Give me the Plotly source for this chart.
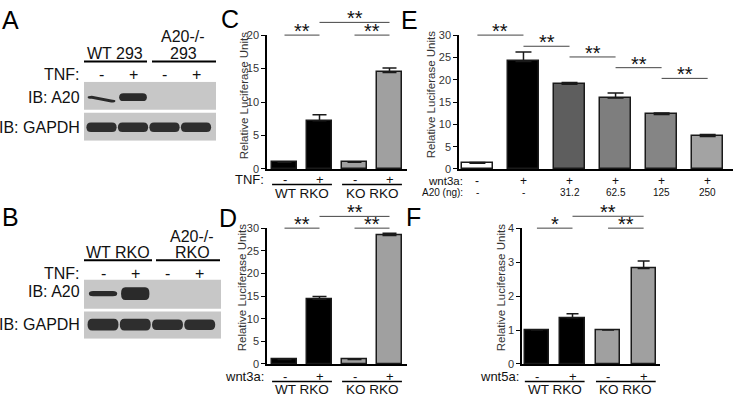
import plotly.graph_objects as go

W, H = 733, 401
FONT = "Liberation Sans, Arial, sans-serif"

# ---------------- data ----------------
treat = ["-", "+", "-", "+"]
groups = ["WT RKO", "KO RKO"]

# C: TNF reporter
c_vals = [1.0, 7.2, 1.0, 14.4]
c_err = [0.0, 0.9, 0.0, 0.7]
c_sig = [[0, 1, 20.0, "**"], [1, 3, 21.9, "**"], [2, 3, 20.0, "**"]]

# D: wnt3a reporter
d_vals = [1.0, 14.3, 1.0, 28.4]
d_err = [0.0, 0.6, 0.0, 0.5]
d_sig = [[0, 1, 30.0, "**"], [1, 3, 32.6, "**"], [2, 3, 30.0, "**"]]

# E: A20 dose
e_wnt3a = ["-", "+", "+", "+", "+", "+"]
e_a20 = ["-", "-", "31.2", "62.5", "125", "250"]
e_vals = [1.3, 24.1, 19.0, 15.9, 12.2, 7.3]
e_err = [0.15, 2.1, 0.4, 1.1, 0.35, 0.4]
e_sig = [[0, 1, 30.0, "**"], [1, 2, 27.5, "**"], [2, 3, 25.1, "**"],
         [3, 4, 22.7, "**"], [4, 5, 20.3, "**"]]

# F: wnt5a reporter
f_vals = [1.0, 1.36, 1.0, 2.81]
f_err = [0.0, 0.12, 0.0, 0.22]
f_sig = [[0, 1, 4.0, "*"], [1, 3, 4.35, "**"], [2, 3, 4.0, "**"]]

# western blots (relative band strength per lane)
blot_tnf = ["-", "+", "-", "+"]
a20_293 = [0.4, 1.0, 0.0, 0.0]
gapdh_293 = [1.0, 1.0, 1.0, 1.0]
a20_rko = [0.4, 1.0, 0.0, 0.0]
gapdh_rko = [1.0, 1.0, 0.9, 0.9]


def dx(px):
    return px / W


def dy(px):
    return 1 - px / H


def sfx(n):
    return "" if n == 1 else str(n)


fig = go.Figure()
shapes = []
annotations = []


def ann(text, xpx, ypx, size, xanchor="center", color="#111", xref="paper"):
    annotations.append(dict(
        text=text, x=dx(xpx) if xref == "paper" else xpx, y=dy(ypx),
        xref=xref, yref="paper",
        xanchor=xanchor, yanchor="middle", showarrow=False,
        font=dict(size=size, color=color, family=FONT)))


def hline(x0, x1, ypx, width=2, color="#000", xref="paper"):
    if xref == "paper":
        x0, x1 = dx(x0), dx(x1)
    shapes.append(dict(type="line", xref=xref, yref="paper", x0=x0, x1=x1,
                       y0=dy(ypx), y1=dy(ypx),
                       line=dict(color=color, width=width)))


# ================= bar panels =================
def bar_panel(n, vals, err, colors, xpx, ypx, xr, ymax, dtick, bw, sig, capw):
    xa, ya = "x" + sfx(n), "y" + sfx(n)
    xs = list(range(len(vals)))
    fig.add_trace(go.Bar(
        x=xs, y=vals, width=bw, xaxis=xa, yaxis=ya, showlegend=False,
        marker=dict(color=colors, line=dict(color="#1a1a1a", width=1.5)),
        error_y=dict(type="data", array=err, arrayminus=[0] * len(err),
                     symmetric=False, color="#1a1a1a", thickness=1.5, width=capw),
        hoverinfo="skip"))
    fig.update_layout(**{
        "xaxis" + sfx(n): dict(domain=[dx(xpx[0]), dx(xpx[1])], anchor=ya, range=xr,
                               showline=True, linecolor="#000", linewidth=1.5,
                               showticklabels=False, ticks="", showgrid=False,
                               zeroline=False, fixedrange=True),
        "yaxis" + sfx(n): dict(domain=[dy(ypx[1]), dy(ypx[0])], anchor=xa,
                               range=[0, ymax], dtick=dtick, tick0=0,
                               showline=True, linecolor="#000", linewidth=1.5,
                               ticks="outside", ticklen=4, tickwidth=1.2,
                               tickcolor="#000", showgrid=False, zeroline=False,
                               showticklabels=True,
                               tickfont=dict(size=11, color="#333", family=FONT),
                               fixedrange=True),
    })
    # significance brackets
    for i0, i1, yv, star in sig:
        shapes.append(dict(type="line", xref=xa, yref=ya + " domain",
                           x0=i0, x1=i1, y0=yv / ymax, y1=yv / ymax,
                           line=dict(color="#444", width=1)))
        annotations.append(dict(text=star, x=(i0 + i1) / 2, y=yv / ymax,
                                xref=xa, yref=ya + " domain", showarrow=False,
                                xanchor="center", yanchor="bottom", yshift=-9,
                                font=dict(size=20, color="#111", family=FONT)))


wt_ko = ["#000000", "#000000", "#a0a0a0", "#a0a0a0"]
e_cols = ["#ffffff", "#000000", "#5e5e5e", "#7e7e7e", "#858585", "#a3a3a3"]

bar_panel(1, c_vals, c_err, wt_ko, (267, 407), (30, 168), [-0.5, 3.5], 20, 5, 0.71, c_sig, 7)
bar_panel(2, d_vals, d_err, wt_ko, (267, 407), (229, 369), [-0.5, 3.5], 30, 5, 0.71, d_sig, 7)
bar_panel(3, e_vals, e_err, e_cols, (459, 733), (30, 168), [-0.4, 5.55], 30, 5, 0.67, e_sig, 8)
bar_panel(4, f_vals, f_err, wt_ko, (522, 660), (229, 369), [-0.42, 3.46], 4, 1, 0.68, f_sig, 6)


def group_labels(n, label, ysign, yline, ygroup, bw):
    xa = "x" + sfx(n)
    annotations.append(dict(text=label, x=0, xref=xa + " domain", y=dy(ysign),
                            yref="paper", xanchor="right", yanchor="middle",
                            xshift=-1, showarrow=False,
                            font=dict(size=13, color="#111", family=FONT)))
    for i, t in enumerate(treat):
        ann(t, i, ysign, 13, xref=xa)
    for g, name in enumerate(groups):
        hline(2 * g - bw / 2, 2 * g + 1 + bw / 2, yline, width=1.5, xref=xa)
        ann(name, 2 * g + 0.5, ygroup, 13.5, xref=xa)


group_labels(1, "TNF:", 179, 184, 193, 0.71)
group_labels(2, "wnt3a:", 382, 387, 395, 0.71)
group_labels(4, "wnt5a:", 382, 387, 395, 0.68)

# E row labels
ann("wnt3a:", 465, 180, 11.5, xanchor="right")
ann("A20 (ng):", 465, 192.5, 10, xanchor="right")
for i in range(len(e_vals)):
    ann(e_wnt3a[i], i, 180, 12, xref="x3")
    ann(e_a20[i], i, 192.5, 10, xref="x3")

# y axis titles
for xpx, ypx in [(244, 93), (242, 291), (431, 92), (501, 291)]:
    annotations.append(dict(text="Relative Luciferase Units", x=dx(xpx), y=dy(ypx),
                            xref="paper", yref="paper", textangle=-90,
                            showarrow=False, xanchor="center", yanchor="middle",
                            font=dict(size=11.5, color="#333", family=FONT)))


# ================= western blots =================
def band_path(cx, hw, yc, th, slope=0.0):
    x0, x1 = cx - hw, cx + hw
    r = hw * 0.3
    a0, a1 = yc - th / 2, yc + th / 2
    b0, b1 = a0 + slope, a1 + slope
    return ("M %f,%f L %f,%f Q %f,%f %f,%f Q %f,%f %f,%f L %f,%f Q %f,%f %f,%f Q %f,%f %f,%f Z"
            % (x0 + r, a0, x1 - r, b0, x1, b0, x1, (b0 + b1) / 2, x1, b1, x1 - r, b1,
               x0 + r, a1, x0, a1, x0, (a0 + a1) / 2, x0, a0, x0 + r, a0))


def blot(n, xpx, ypx, xr, strips, a20, gapdh, a20_th, gapdh_th, a20_y, gapdh_y,
         slope1, tnf_y):
    xa, ya = "x" + sfx(n), "y" + sfx(n)
    h = ypx[1] - ypx[0]
    fig.update_layout(**{
        "xaxis" + sfx(n): dict(domain=[dx(xpx[0]), dx(xpx[1])], range=xr, visible=False,
                               anchor=ya, fixedrange=True),
        "yaxis" + sfx(n): dict(domain=[dy(ypx[1]), dy(ypx[0])], range=[h, 0], visible=False,
                               anchor=xa, fixedrange=True),
    })
    lanes = [1, 2, 3, 4]
    # TNF +/- row above the gel
    for i, t in enumerate(blot_tnf):
        ann(t, lanes[i], tnf_y, 16, xref=xa)
    for s0, s1 in strips:
        shapes.append(dict(type="rect", xref=xa, yref=ya, x0=xr[0], x1=xr[1],
                           y0=s0, y1=s1, fillcolor="#c7c7c7", line=dict(width=0),
                           layer="below"))
    for i, v in enumerate(a20):
        if v <= 0:
            continue
        shapes.append(dict(type="path", xref=xa, yref=ya,
                           path=band_path(lanes[i], 0.44, a20_y, a20_th * v,
                                          slope1 if i == 0 else 0.0),
                           fillcolor="#2a2a2a", line=dict(width=0)))
    for i, v in enumerate(gapdh):
        shapes.append(dict(type="path", xref=xa, yref=ya,
                           path=band_path(lanes[i], 0.48, gapdh_y, gapdh_th * v),
                           fillcolor="#2e2e2e", line=dict(width=0)))


blot(5, (84, 216), (78, 139), [0.444, 4.635], [(0, 29), (32, 61)],
     a20_293, gapdh_293, 8, 10, 16, 47, 4, 70.5)
blot(6, (84, 221), (282, 343), [0.41, 4.66], [(0, 30), (33, 61)],
     a20_rko, gapdh_rko, 13, 12, 14.5, 46.5, 0, 275.5)

# blot labels
ann("WT 293", 115, 49, 16)
ann("A20-/-", 183, 31.5, 16)
ann("293", 183, 49, 16)
hline(84, 147, 57.3)
hline(152, 216, 57.3)
ann("TNF:", 82, 70.5, 16, xanchor="right")
ann("IB: A20", 82, 94, 16, xanchor="right")
ann("IB: GAPDH", 82, 125, 16, xanchor="right")

ann("WT RKO", 118, 254.5, 16)
ann("A20-/-", 192, 237.5, 16)
ann("RKO", 192, 254.5, 16)
hline(84, 152, 262)
hline(156, 220, 262)
ann("TNF:", 82, 275.5, 16, xanchor="right")
ann("IB: A20", 82, 294.5, 16, xanchor="right")
ann("IB: GAPDH", 82, 328, 16, xanchor="right")

# panel letters
for letter, xpx, ypx in [("A", 0, 14), ("B", 0, 218), ("C", 219, 13),
                         ("D", 217, 219), ("E", 399, 14), ("F", 404, 218)]:
    ann(letter, xpx, ypx, 25, xanchor="left", color="#000")

fig.update_layout(
    width=W, height=H,
    margin=dict(l=0, r=0, t=0, b=0),
    paper_bgcolor="white", plot_bgcolor="white",
    font=dict(family=FONT, color="#111"),
    bargap=0,
    shapes=shapes,
    annotations=annotations,
)

# the page has a default 8px body margin; drop it so the figure sits at 0,0
fig.write_html("out.html", config={"displayModeBar": False},
               post_script="document.body.style.margin='0';")
